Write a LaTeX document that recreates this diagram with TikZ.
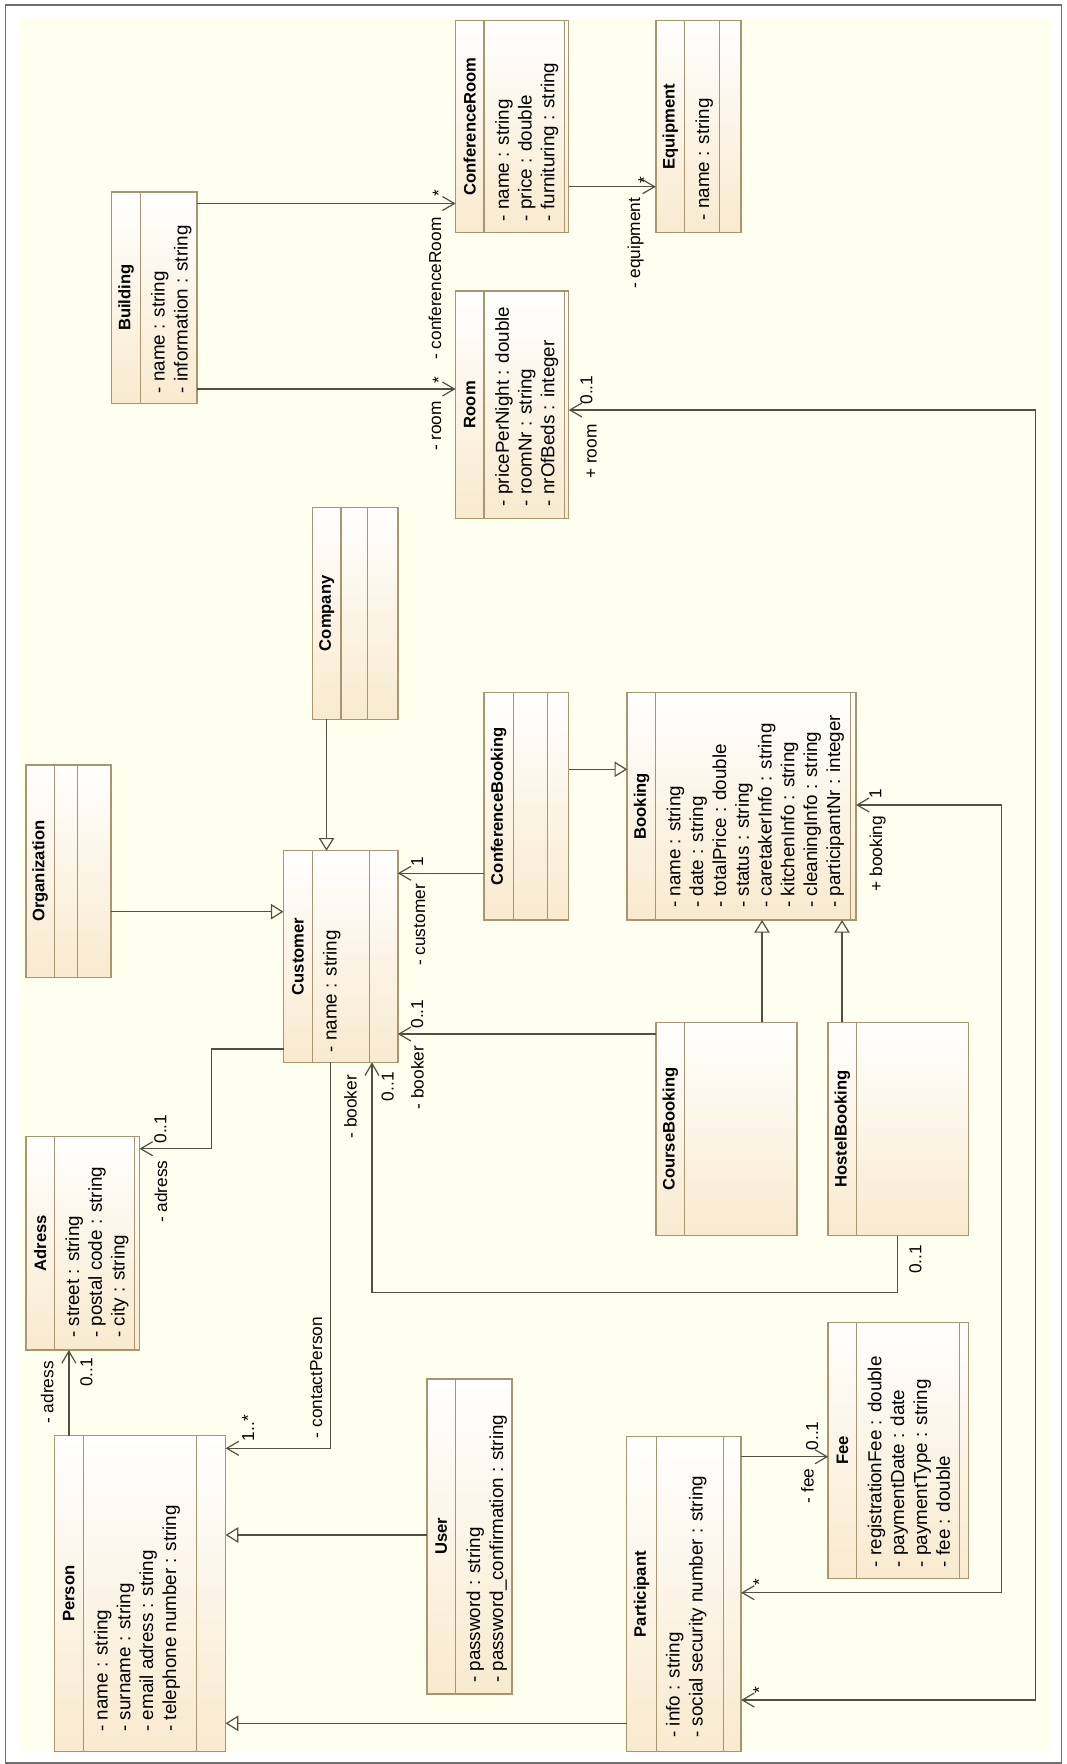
\documentclass[tikz,border=0pt]{standalone}
\usepackage{fontspec}
\setmainfont{Liberation Sans}
\usetikzlibrary{arrows.meta,calc}

\definecolor{pagebg}{RGB}{255,255,240}
\definecolor{classfill}{RGB}{248,234,206}
\definecolor{classedge}{RGB}{168,150,114}
\definecolor{linkcol}{RGB}{84,79,66}
\definecolor{framecol}{RGB}{110,110,110}

\tikzset{
  classbox/.style={draw=classedge, line width=1.5pt, top color=white,
    bottom color=classfill, inner sep=0pt, outer sep=0pt},
  compline/.style={classedge, line width=1.2pt},
  classname/.style={rotate=90, inner sep=0pt,
    font=\fontsize{16.6}{20}\selectfont\bfseries},
  attrib/.style={rotate=90, inner sep=0pt, anchor=base west,
    font=\fontsize{18.8}{22}\selectfont},
  role/.style={rotate=90, inner sep=0pt, anchor=base,
    font=\fontsize{17.3}{20}\selectfont},
  assoc/.style={linkcol, line width=1.2pt,
    -{Straight Barb[length=12pt,width=14pt]}},
  twoway/.style={linkcol, line width=1.2pt,
    {Straight Barb[length=12pt,width=14pt]}-{Straight Barb[length=12pt,width=14pt]}},
  inherit/.style={linkcol, line width=1.2pt,
    -{Triangle[open,length=12.7pt,width=15.5pt]}},
}

% name, x, y, width, height, title, title width, other compartments
\newcommand{\umlclass}[8]{%
  \node[classbox, minimum width=#4pt, minimum height=#5pt, anchor=north west]
    (#1) at (#2,#3) {};
  \foreach \dx in {#7,#8}
    \draw[compline] ($(#1.north west)+(\dx,0)$) -- ($(#1.south west)+(\dx,0)$);
  \node[classname] (#1-name) at ($(#1.west)+(#7/2,0)$) {#6};
}
% node, gap from bottom, attribute lines
\newcommand{\attrlist}[3]{%
  \foreach \attr [count=\i] in {#3}
    \node[attrib] (#1-a\i) at ($(#1.south west)+(30.4+22.8*\i,-#2)$) {\attr};
}

\begin{document}
\begin{tikzpicture}[x=1pt,y=-1pt]
\useasboundingbox (0,0) rectangle (1066,1764);
\fill[white] (0,0) rectangle (1066,1764);
\draw[framecol, line width=1.2pt] (5.5,5) rectangle (1061.7,1763);
\fill[pagebg] (19.5,18.3) rectangle (1051.7,1751.7);

% classes
\umlclass{building}{111.5}{192}{85.5}{211.5}{Building}{29.2}{85.5}
\umlclass{cr}{455.6}{20.7}{113.1}{211.6}{ConferenceRoom}{28.3}{108.6}
\umlclass{equip}{655.8}{20.7}{85.3}{211.6}{Equipment}{28.9}{63.4}
\umlclass{room}{455.6}{291}{113.1}{227.3}{Room}{28.3}{108.6}
\umlclass{company}{312.4}{507.3}{85.4}{212}{Company}{28.6}{55.4}
\umlclass{org}{25.8}{765}{85.1}{212.3}{Organization}{28.6}{51.3}
\umlclass{customer}{283.5}{850.7}{114.3}{211.6}{Customer}{28.9}{86}
\umlclass{confbooking}{483.9}{692.3}{84.8}{227.7}{ConferenceBooking}{29.3}{63.3}
\umlclass{booking}{627.2}{692.3}{228.8}{227.7}{Booking}{28.6}{223.6}
\umlclass{coursebooking}{655.8}{1022.3}{141}{213.4}{CourseBooking}{28.9}{141}
\umlclass{hostelbooking}{828.2}{1022.3}{140.3}{213.4}{HostelBooking}{28.5}{140.3}
\umlclass{adress}{25.8}{1136.7}{113.7}{213.3}{Adress}{28.6}{108.5}
\umlclass{person}{54.4}{1435.7}{171.2}{316}{Person}{28.9}{141.9}
\umlclass{user}{427}{1379}{85.1}{315}{User}{28.3}{85.1}
\umlclass{participant}{626.5}{1436.7}{114.6}{315}{Participant}{30}{96.8}
\umlclass{fee}{828.2}{1322.3}{140.3}{256}{Fee}{28.5}{131.2}

\attrlist{building}{10}{- name : string, - information : string}
\attrlist{cr}{11}{- name : string, - price : double, - furnituring : string}
\attrlist{equip}{12}{- name : string}
\attrlist{room}{12}{- pricePerNight : double, - roomNr : string, - nrOfBeds : integer}
\attrlist{customer}{10}{- name : string}
\attrlist{booking}{12}{- name : string, - date : string, - totalPrice : double,
  - status : string, - caretakerInfo : string, - kitchenInfo : string,
  - cleaningInfo : string, - participantNr : integer}
\attrlist{adress}{12}{- street : string, - postal code : string, - city : string}
\attrlist{person}{20}{- name : string, - surname : string, - email adress : string,
  - telephone number : string}
\attrlist{user}{11}{- password : string, - password\_confirmation : string}
\attrlist{participant}{14}{- info : string, - social security number : string}
\attrlist{fee}{11}{- registrationFee : double, - paymentDate : date,
  - paymentType : string, - fee : double}

% connector ends
\coordinate (c1) at ($(building.north east)+(0,11.5)$);
\coordinate (c2) at ($(building.south east)+(0,-14.5)$);
\coordinate (c3) at ($(cr.north east)+(0,166)$);
\coordinate (c4) at ($(company.south west)+(14.1,0)$);
\coordinate (c5) at ($(org.north east)+(0,146.7)$);
\coordinate (c6) at ($(confbooking.north west)+(0,181)$);
\coordinate (c7) at ($(confbooking.north east)+(0,77)$);
\coordinate (c8) at ($(coursebooking.north west)+(0,11.7)$);
\coordinate (c9) at ($(coursebooking.north west)+(106.2,0)$);
\coordinate (c10) at ($(hostelbooking.north west)+(13.8,0)$);
\coordinate (c11) at ($(hostelbooking.south west)+(69.6,0)$);
\coordinate (c12) at ($(customer.south west)+(88.5,0)$);
\coordinate (c13) at ($(customer.south west)+(0,-13.3)$);
\coordinate (c14) at ($(adress.north east)+(0,12)$);
\coordinate (c15) at ($(customer.south west)+(47.1,0)$);
\coordinate (c16) at ($(person.north east)+(0,12.6)$);
\coordinate (c17) at ($(person.north west)+(14.5,0)$);
\coordinate (c18) at ($(user.north west)+(0,156)$);
\coordinate (c19) at ($(participant.north west)+(0,286.6)$);
\coordinate (c20) at ($(participant.north east)+(0,20)$);
\coordinate (c21) at ($(booking.north east)+(0,112.7)$);
\coordinate (c22) at ($(participant.north east)+(0,156)$);
\coordinate (c23) at ($(room.north east)+(0,119)$);
\coordinate (c24) at ($(participant.north east)+(0,263.3)$);

% associations
\draw[assoc] (c1) -- (c1 -| cr.west);
\draw[assoc] (c2) -- (c2 -| room.west);
\draw[assoc] (c3) -- (c3 -| equip.west);
\draw[assoc] (c6) -- (c6 -| customer.east);
\draw[assoc] (c8) -- (c8 -| customer.east);
\draw[assoc] (c11) -- ++(0,56.6) -| (c12);
\draw[assoc] (c13) -| ($(c13)!0.5!(c14)$) |- (c14);
\draw[assoc] (c15) |- (c16);
\draw[assoc] (c17) -- (c17 |- adress.south);
\draw[assoc] (c20) -- (c20 -| fee.west);
\draw[twoway] (c21) -- ++(145.5,0) |- (c22);
\draw[twoway] (c23) -- ++(467,0) |- (c24);

% generalizations
\draw[inherit] (c4) -- (c4 |- customer.north);
\draw[inherit] (c5) -- (c5 -| customer.west);
\draw[inherit] (c7) -- (c7 -| booking.west);
\draw[inherit] (c9) -- (c9 |- booking.south);
\draw[inherit] (c10) -- (c10 |- booking.south);
\draw[inherit] (c18) -- (c18 -| person.east);
\draw[inherit] (c19) -- (c19 -| person.east);

% role names and multiplicities
\node[role] (m1) at (444.5,193.3) {*};
\node[role] (r1) at (441,288.5) {- conferenceRoom};
\node[role] (m2) at (444.5,380) {*};
\node[role] (r2) at (441,426) {- room};
\node[role] (m3) at (650,180) {*};
\node[role] (r3) at (640,243.3) {- equipment};
\node[role] (m4) at (592.4,390) {0..1};
\node[role] (r4) at (596.5,451.7) {+ room};
\node[role] (m5) at (423,861.7) {1};
\node[role] (r5) at (425,925) {- customer};
\node[role] (m6) at (423,1014) {0..1};
\node[role] (r6) at (423.5,1077.5) {- booker};
\node[role] (m7) at (393.7,1086.7) {0..1};
\node[role] (r7) at (356.5,1106.7) {- booker};
\node[role] (m8) at (921.4,1259.2) {0..1};
\node[role] (m9) at (166.3,1129) {0..1};
\node[role] (r9) at (167,1191.7) {- adress};
\node[role] (m10) at (881.4,793.3) {1};
\node[role] (r10) at (882,853.5) {+ booking};
\node[role] (m11) at (254,1428) {1..*};
\node[role] (r11) at (322,1377.5) {- contactPerson};
\node[role] (m12) at (92.3,1372.5) {0..1};
\node[role] (r12) at (53.3,1392.5) {- adress};
\node[role] (m13) at (818,1435.8) {0..1};
\node[role] (r13) at (813.5,1485.8) {- fee};
\node[role] (m14) at (765,1582) {*};
\node[role] (m15) at (765,1690) {*};
\end{tikzpicture}
\end{document}
